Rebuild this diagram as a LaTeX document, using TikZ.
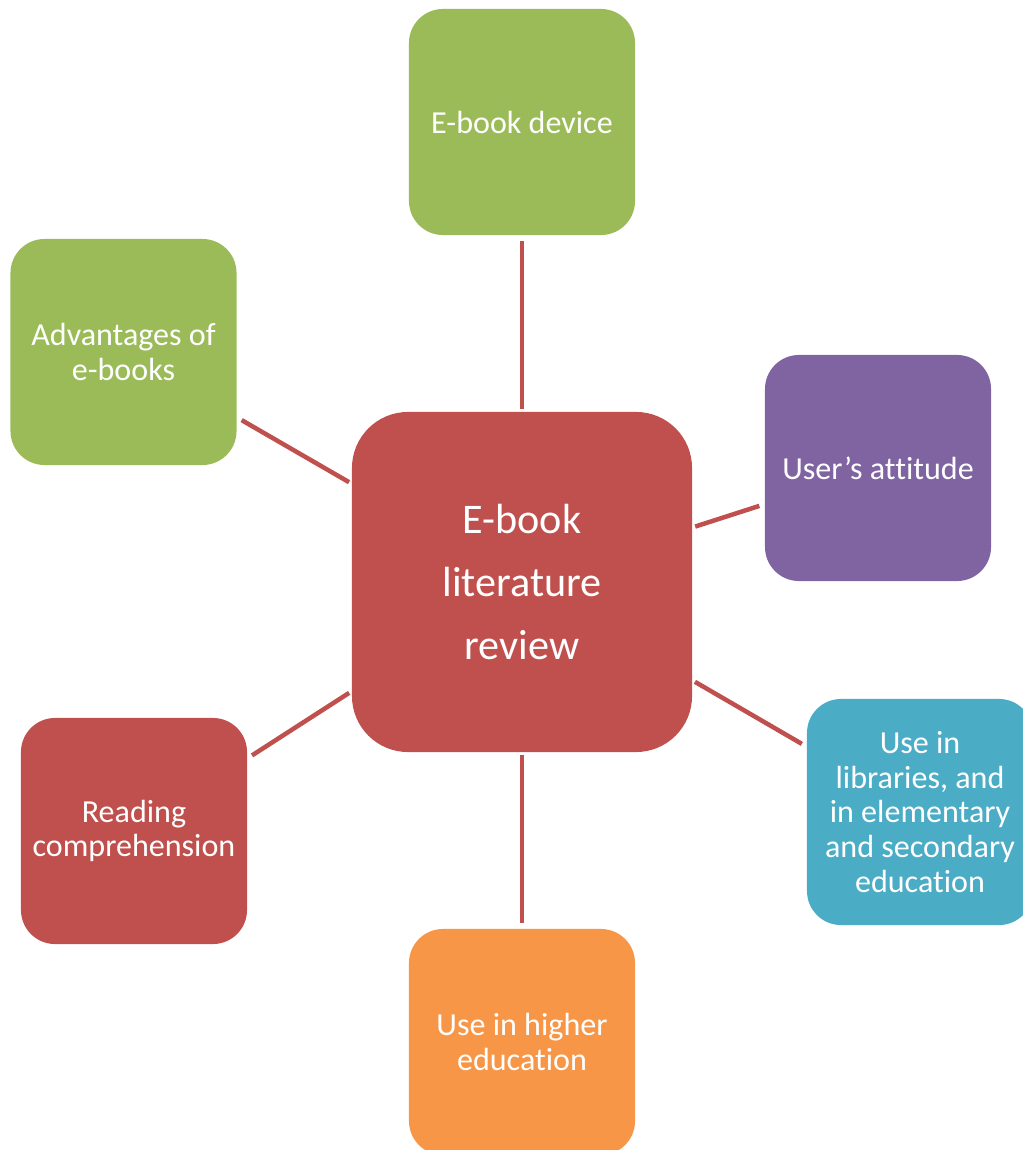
\documentclass[tikz,border=0pt]{standalone}
\usepackage{fontspec}
\setmainfont{Carlito}[Ligatures={NoCommon}]
\usetikzlibrary{positioning}
\definecolor{hubred}{HTML}{C0504D}
\definecolor{leafgreen}{HTML}{9BBB59}
\definecolor{leafpurple}{HTML}{8064A2}
\definecolor{leafteal}{HTML}{4BACC6}
\definecolor{leaforange}{HTML}{F79646}
\newcommand{\leaftext}{\fontsize{22.8}{24.8}\selectfont}
\newcommand{\hubtext}{\fontsize{30}{45}\selectfont}

\begin{document}
\begin{tikzpicture}[x=0.025cm, y=-0.025cm,
	leaf/.style={rectangle, rounded corners=0.85cm, minimum width=5.65cm, minimum height=5.65cm, text=white, align=center, font=\leaftext, inner sep=0pt},
	hubbox/.style={rectangle, rounded corners=1.4cm, minimum width=8.5cm, minimum height=8.5cm, fill=hubred, text=white, align=center, font=\hubtext, inner sep=0pt},
	link/.style={draw=hubred, line width=3.2pt, shorten <=0.075cm, shorten >=0.14cm}]
	\useasboundingbox (0, 0) rectangle (1023, 1150);

	\node[hubbox] (hub) at (522, 582) {E-book\\literature\\review};

	\node[leaf, fill=leafgreen] (device) at (522, 122) {E-book device};
	\node[leaf, fill=leafgreen] (advant) at (123.5, 352) {Advantages of\\e-books};
	\node[leaf, fill=leafpurple] (attitude) at (878, 468) {User’s attitude};
	\node[leaf, fill=leafteal] (library) at (920, 812) {Use in\\libraries, and\\in elementary\\and secondary\\education};
	\node[leaf, fill=hubred] (reading) at (134, 831) {Reading\\comprehension};
	\node[leaf, fill=leaforange] (higher) at (522, 1042) {Use in higher\\education};

	\draw[link] (hub) -- (device);
	\draw[link] (hub) -- (advant);
	\draw[link] (hub) -- (attitude);
	\draw[link] (hub) -- (library);
	\draw[link] (hub) -- (reading);
	\draw[link] (hub) -- (higher);
\end{tikzpicture}
\end{document}
